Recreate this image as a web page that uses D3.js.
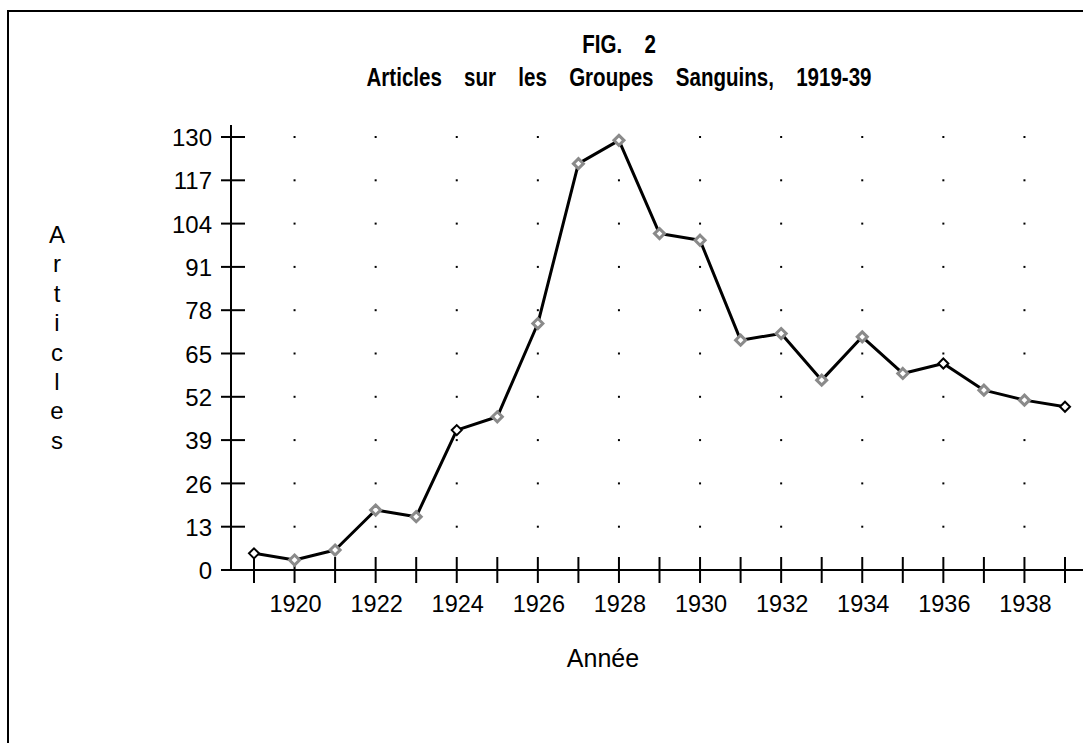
<!DOCTYPE html>
<html>
<head>
<meta charset="utf-8">
<script src="https://cdn.jsdelivr.net/npm/d3@7"></script>
<style>
  body { margin: 0; background: #fff; }
  svg { display: block; }
  text { font-family: "Liberation Sans", Arial, sans-serif; fill: #000; }
</style>
</head>
<body>
<svg id="chart" width="1083" height="743"></svg>
<script>
// data
const years = d3.range(1919, 1940);
const articles = [5, 3, 6, 18, 16, 42, 46, 74, 122, 129, 101, 99, 69, 71, 57, 70, 59, 62, 54, 51, 49];
const yTicks = [0, 13, 26, 39, 52, 65, 78, 91, 104, 117, 130];
const xLabels = [1920, 1922, 1924, 1926, 1928, 1930, 1932, 1934, 1936, 1938];
const crispYears = [1919, 1924, 1936, 1939];
const titleLines = ["FIG. 2", "Articles sur les Groupes Sanguins, 1919-39"];
const yTitle = "Articles";
const xTitle = "Année";

const svg = d3.select("#chart");
svg.append("rect").attr("width", 1083).attr("height", 743).attr("fill", "#fff");

// frame (top + left only)
svg.append("path")
    .attr("d", "M8,743V11H1083")
    .attr("fill", "none").attr("stroke", "#000").attr("stroke-width", 2);

const x = d3.scaleLinear().domain([1919, 1939]).range([254, 1065]);
const y = d3.scaleLinear().domain([0, 130]).range([570, 137]);

// dotted grid at labelled years
const grid = svg.append("g");
xLabels.forEach(yr => {
    yTicks.slice(1).forEach(v => {
        grid.append("rect")
            .attr("x", x(yr) - 1).attr("y", y(v) - 1)
            .attr("width", 2).attr("height", 2).attr("fill", "#000");
    });
});

// y axis
const yAxis = svg.append("g").attr("transform", "translate(231,0)")
    .call(d3.axisLeft(y).tickValues(yTicks).tickSize(0).tickPadding(19));
yAxis.select(".domain").remove();
yAxis.selectAll("text").style("font-size", "24px").attr("dy", "0.36em")
    .style("font-family", '"Liberation Sans", Arial, sans-serif');
svg.append("line").attr("x1", 231).attr("x2", 231).attr("y1", 125).attr("y2", 570)
    .attr("stroke", "#000").attr("stroke-width", 2);
svg.append("g").selectAll("line").data(yTicks).join("line")
    .attr("x1", 221).attr("x2", 245)
    .attr("y1", d => y(d)).attr("y2", d => y(d))
    .attr("stroke", "#000").attr("stroke-width", 2);

// x axis
svg.append("line").attr("x1", 221).attr("x2", 1083).attr("y1", 570).attr("y2", 570)
    .attr("stroke", "#000").attr("stroke-width", 2);
svg.append("g").selectAll("line").data(years).join("line")
    .attr("x1", d => x(d)).attr("x2", d => x(d))
    .attr("y1", 557).attr("y2", 583)
    .attr("stroke", "#000").attr("stroke-width", 2);
svg.append("g").selectAll("text").data(xLabels).join("text")
    .attr("x", d => x(d) + 1).attr("y", 612)
    .attr("text-anchor", "middle")
    .style("font-size", "23.5px")
    .text(d => d);

// series line
const line = d3.line().x((d, i) => x(years[i])).y(d => y(d));
svg.append("path").datum(articles)
    .attr("d", line)
    .attr("fill", "none").attr("stroke", "#000").attr("stroke-width", 3)
    .attr("stroke-linejoin", "round");

// diamond markers
const diamond = d3.symbol().type(d3.symbolDiamond2).size(64);
svg.append("g").selectAll("path").data(articles).join("path")
    .attr("transform", (d, i) => `translate(${x(years[i])},${y(d)})`)
    .attr("d", diamond)
    .attr("fill", "#fff")
    .attr("stroke", (d, i) => crispYears.includes(years[i]) ? "#000" : "#8a8a8a")
    .attr("stroke-width", (d, i) => crispYears.includes(years[i]) ? 2 : 3);

// title
titleLines.forEach((t, i) => {
    svg.append("g").attr("transform", `translate(619,${i === 0 ? 53 : 86}) scale(0.79,1)`)
        .append("text")
        .attr("text-anchor", "middle")
        .style("font-size", "26px").style("font-weight", "bold")
        .style("word-spacing", "21px")
        .text(t);
});

// x title
svg.append("text").attr("x", 603).attr("y", 667).attr("text-anchor", "middle")
    .style("font-size", "25px").text(xTitle);

// y title, stacked letters
svg.append("g").selectAll("text").data(yTitle.split("")).join("text")
    .attr("x", 57).attr("y", (d, i) => 243 + i * 29.4)
    .attr("text-anchor", "middle")
    .style("font-size", "24px")
    .text(d => d);
</script>
</body>
</html>
